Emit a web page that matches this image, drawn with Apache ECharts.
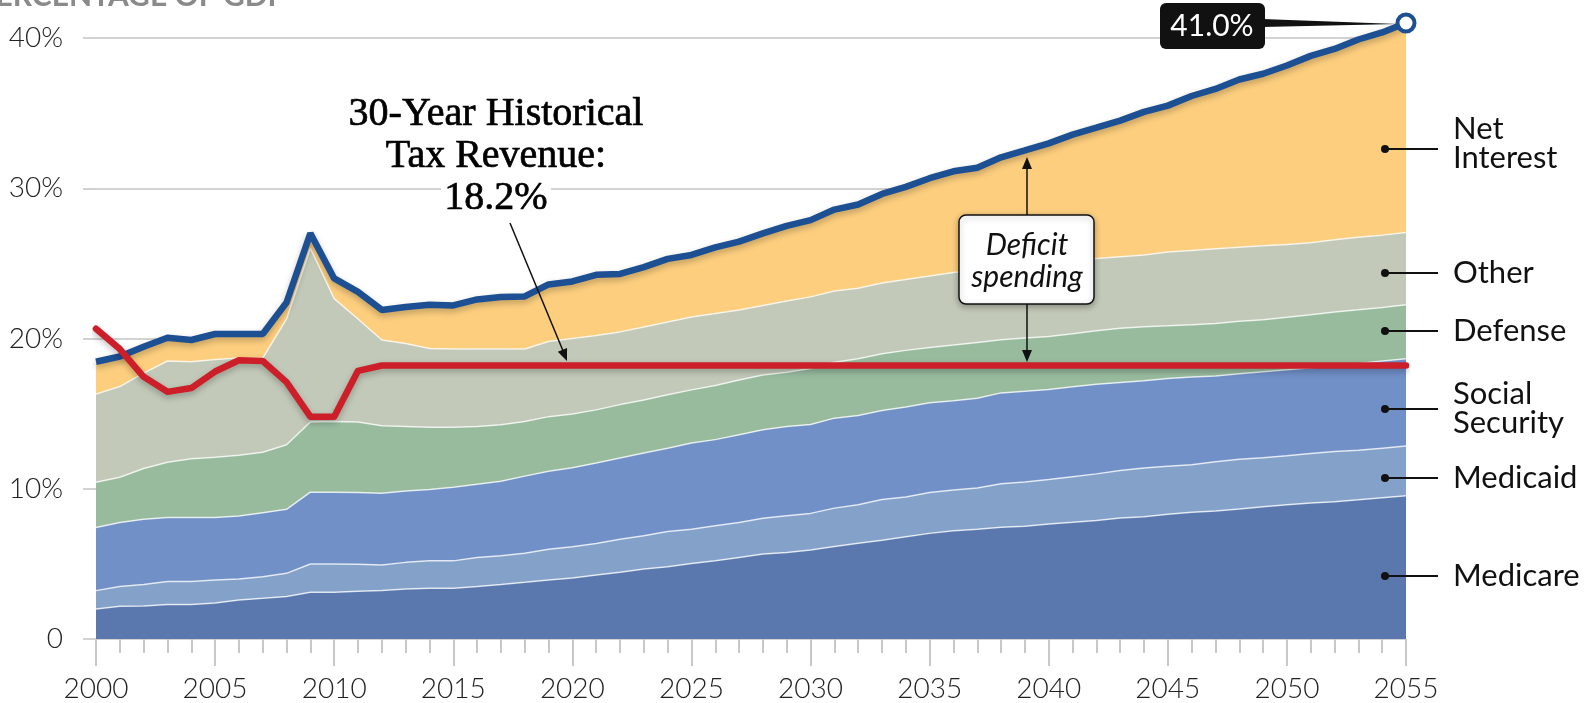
<!DOCTYPE html>
<html>
<head>
<meta charset="utf-8">
<script src="https://cdn.jsdelivr.net/npm/echarts@6/dist/echarts.min.js"></script>
<style>
  html, body { margin: 0; padding: 0; background: #fff; }
  #main { width: 1594px; height: 703px; }
</style>
</head>
<body>
<div id="main"></div>
<script>
// years on the x axis
var years = ['2000','2001','2002','2003','2004','2005','2006','2007','2008','2009',
  '2010','2011','2012','2013','2014','2015','2016','2017','2018','2019',
  '2020','2021','2022','2023','2024','2025','2026','2027','2028','2029',
  '2030','2031','2032','2033','2034','2035','2036','2037','2038','2039',
  '2040','2041','2042','2043','2044','2045','2046','2047','2048','2049',
  '2050','2051','2052','2053','2054','2055']

// spending by category, % of GDP (stacked bottom to top)
var medicare = [2.00,2.18,2.20,2.30,2.30,2.40,2.60,2.71,2.83,3.11,
  3.11,3.18,3.22,3.33,3.38,3.38,3.49,3.62,3.77,3.93,
  4.06,4.26,4.44,4.66,4.81,5.03,5.21,5.43,5.65,5.75,
  5.92,6.15,6.38,6.57,6.80,7.03,7.20,7.31,7.43,7.50,
  7.66,7.77,7.89,8.05,8.13,8.30,8.44,8.52,8.66,8.80,
  8.93,9.05,9.13,9.26,9.40,9.54]
var medicaid = [1.22,1.31,1.42,1.52,1.52,1.53,1.40,1.44,1.54,1.88,
  1.88,1.79,1.70,1.77,1.82,1.82,1.94,1.92,1.93,2.05,
  2.08,2.10,2.20,2.21,2.34,2.27,2.32,2.32,2.38,2.45,
  2.44,2.56,2.56,2.72,2.65,2.72,2.71,2.74,2.90,2.95,
  2.95,3.03,3.10,3.17,3.25,3.20,3.16,3.27,3.30,3.27,
  3.27,3.29,3.35,3.30,3.30,3.30]
var socialSecurity = [4.20,4.26,4.35,4.26,4.26,4.15,4.19,4.26,4.26,4.78,
  4.78,4.78,4.78,4.75,4.75,4.90,4.87,4.96,5.14,5.19,
  5.26,5.36,5.41,5.51,5.55,5.75,5.74,5.85,5.90,5.95,
  5.92,5.99,5.93,5.92,5.99,5.97,5.95,5.98,6.05,6.04,
  6.00,5.99,5.96,5.85,5.81,5.83,5.83,5.72,5.69,5.72,
  5.72,5.72,5.72,5.78,5.80,5.82]
var defense = [3.01,3.02,3.38,3.69,3.92,4.02,4.04,4.02,4.30,4.67,
  4.71,4.70,4.50,4.30,4.15,4.00,3.85,3.76,3.64,3.63,
  3.57,3.53,3.55,3.52,3.55,3.53,3.60,3.64,3.64,3.60,
  3.72,3.72,3.78,3.77,3.77,3.68,3.70,3.71,3.53,3.54,
  3.53,3.53,3.56,3.61,3.60,3.52,3.49,3.49,3.49,3.46,
  3.49,3.52,3.57,3.57,3.57,3.58]
var other = [5.87,6.03,6.35,6.73,6.45,6.50,6.47,6.27,8.37,11.56,
  8.17,6.85,5.70,5.52,5.24,5.20,5.15,5.04,4.82,5.00,
  5.03,4.95,4.84,4.87,4.85,4.85,4.79,4.66,4.63,4.75,
  4.77,4.74,4.69,4.72,4.72,4.76,4.83,4.81,4.79,4.82,
  4.86,4.83,4.81,4.76,4.76,4.90,4.94,4.97,4.94,4.92,
  4.84,4.80,4.81,4.83,4.81,4.81]
var netInterest = [2.15,2.00,1.75,1.55,1.45,1.70,1.60,1.60,1.10,1.00,
  1.35,1.80,2.00,2.43,2.91,2.90,3.30,3.46,3.50,3.80,
  3.80,4.04,3.86,3.98,4.20,4.13,4.41,4.55,4.80,5.00,
  5.11,5.42,5.58,5.92,6.16,6.51,6.74,6.81,7.36,7.67,
  7.99,8.42,8.71,9.06,9.53,9.75,10.28,10.64,11.16,11.45,
  11.92,12.43,12.69,13.16,13.49,13.95]

// total spending (blue line) and tax revenue (red line)
var totalSpending = [18.45,18.80,19.45,20.05,19.90,20.30,20.30,20.30,22.40,27.00,
  24.00,23.10,21.90,22.10,22.25,22.20,22.60,22.76,22.80,23.60,
  23.80,24.24,24.30,24.75,25.30,25.56,26.07,26.45,27.00,27.50,
  27.88,28.58,28.92,29.62,30.09,30.67,31.13,31.36,32.06,32.52,
  32.99,33.57,34.03,34.50,35.08,35.50,36.14,36.61,37.24,37.62,
  38.17,38.81,39.27,39.90,40.37,41.00]
var taxRevenue = [20.65,19.30,17.45,16.45,16.70,17.80,18.55,18.50,17.10,14.80,
  14.80,17.85,18.20,18.20,18.20,18.20,18.20,18.20,18.20,18.20,
  18.20,18.20,18.20,18.20,18.20,18.20,18.20,18.20,18.20,18.20,
  18.20,18.20,18.20,18.20,18.20,18.20,18.20,18.20,18.20,18.20,
  18.20,18.20,18.20,18.20,18.20,18.20,18.20,18.20,18.20,18.20,
  18.20,18.20,18.20,18.20,18.20,18.20]

var yTicks = [0, 10, 20, 30, 40]

var myChart = echarts.init(document.getElementById('main'))

var labelFont = 'Lato, "DejaVu Sans", sans-serif'
var serifFont = '"Liberation Serif", serif'

function areaSeries(name, data, color) {
  return {
    name: name,
    type: 'line',
    stack: 'spend',
    data: data,
    symbol: 'none',
    clip: false,
    lineStyle: { color: 'rgba(255,255,255,0.75)', width: 1.5 },
    areaStyle: { color: color, opacity: 1 },
    z: 2
  }
}

// arrow head at (x2, y2) for a line coming from (x1, y1)
function arrowHead(x1, y1, x2, y2) {
  var a = Math.atan2(y2 - y1, x2 - x1)
  var s = 12, w = 5
  return {
    type: 'polygon',
    shape: { points: [
      [x2, y2],
      [x2 - s * Math.cos(a) + w * Math.sin(a), y2 - s * Math.sin(a) - w * Math.cos(a)],
      [x2 - s * Math.cos(a) - w * Math.sin(a), y2 - s * Math.sin(a) + w * Math.cos(a)]
    ] },
    style: { fill: '#111' },
    z: 100
  }
}

function sideLabel(lines, dotY, textY) {
  var els = [
    { type: 'circle', shape: { cx: 1385, cy: dotY, r: 4 }, style: { fill: '#111' }, z: 100 },
    { type: 'line', shape: { x1: 1385, y1: dotY, x2: 1438, y2: dotY }, style: { stroke: '#111', lineWidth: 2 }, z: 100 }
  ]
  lines.forEach(function (t, i) {
    els.push({
      type: 'text', x: 1453, y: textY + i * 29, z: 100,
      style: { text: t, font: '31px ' + labelFont, fill: '#111', textAlign: 'left', textVerticalAlign: 'middle' }
    })
  })
  return els
}

function serifLine(t, y) {
  return {
    type: 'text', x: 496, y: y, z: 100,
    style: { text: t, font: '40px ' + serifFont, fill: '#000', stroke: '#000', lineWidth: 0.7, textAlign: 'center', textVerticalAlign: 'middle' }
  }
}

var lastIdx = totalSpending.length - 1

var graphics = [
  // cut-off title
  { type: 'text', x: -23, y: -4, style: { text: 'PERCENTAGE OF GDP', font: 'bold 30px ' + labelFont, fill: '#8a8a8a', textVerticalAlign: 'middle' } },

  // tax revenue annotation
  serifLine('30-Year Historical', 114),
  serifLine('Tax Revenue:', 156),
  { type: 'rect', shape: { x: 441, y: 180, width: 110, height: 36 }, style: { fill: '#fff' }, z: 99 },
  serifLine('18.2%', 198),
  { type: 'line', shape: { x1: 510, y1: 223, x2: 566, y2: 358 }, style: { stroke: '#111', lineWidth: 1.5 }, z: 100 },
  arrowHead(510, 223, 567, 361),

  // deficit spending box
  { type: 'line', shape: { x1: 1027, y1: 215, x2: 1027, y2: 165 }, style: { stroke: '#111', lineWidth: 1.5 }, z: 100 },
  arrowHead(1027, 215, 1027, 157),
  { type: 'line', shape: { x1: 1027, y1: 304, x2: 1027, y2: 352 }, style: { stroke: '#111', lineWidth: 1.5 }, z: 100 },
  arrowHead(1027, 304, 1027, 362),
  { type: 'rect', shape: { x: 959, y: 215, width: 135, height: 89, r: 7 },
    style: { fill: '#fff', stroke: '#111', lineWidth: 1.5, shadowBlur: 6, shadowColor: 'rgba(0,0,0,0.3)', shadowOffsetY: 2 }, z: 100 },
  { type: 'text', x: 1027, y: 245, z: 101, style: { text: 'Deficit', font: 'italic 30px ' + labelFont, fill: '#111', textAlign: 'center', textVerticalAlign: 'middle' } },
  { type: 'text', x: 1027, y: 277, z: 101, style: { text: 'spending', font: 'italic 30px ' + labelFont, fill: '#111', textAlign: 'center', textVerticalAlign: 'middle' } },

  // 41.0% callout
  { type: 'polygon', shape: { points: [[1262, 19], [1262, 27], [1398, 24]] }, style: { fill: '#111' }, z: 100 },
  { type: 'rect', shape: { x: 1160, y: 3, width: 105, height: 46, r: 6 }, style: { fill: '#111' }, z: 101 },
  { type: 'text', x: 1212, y: 26, z: 102, style: { text: '41.0%', font: '30px ' + labelFont, fill: '#fff', textAlign: 'center', textVerticalAlign: 'middle' } }
]
graphics = graphics
  .concat(sideLabel(['Net', 'Interest'], 149, 129))
  .concat(sideLabel(['Other'], 273, 273))
  .concat(sideLabel(['Defense'], 331, 331))
  .concat(sideLabel(['Social', 'Security'], 409, 394))
  .concat(sideLabel(['Medicaid'], 478, 478))
  .concat(sideLabel(['Medicare'], 576, 576))

var hiddenLine = { show: true, lineStyle: { color: 'rgba(0,0,0,0)' } }

var option = {
  animation: false,
  backgroundColor: '#fff',
  grid: { left: 96, right: 188, top: 38, bottom: 61 },
  xAxis: [
    {
      type: 'category',
      data: years,
      boundaryGap: false,
      axisLine: hiddenLine,
      axisTick: { show: true, interval: 0, length: 14, lineStyle: { color: '#c8c8c8', width: 2 } },
      axisLabel: { interval: 4, margin: 36, color: '#222', fontSize: 28, fontWeight: 300, fontFamily: labelFont },
      splitLine: { show: false }
    },
    {
      type: 'category',
      data: years,
      boundaryGap: false,
      position: 'bottom',
      axisLine: hiddenLine,
      axisTick: { show: true, interval: 4, length: 27, lineStyle: { color: '#c8c8c8', width: 2 } },
      axisLabel: { show: false },
      splitLine: { show: false }
    }
  ],
  yAxis: {
    type: 'value',
    min: yTicks[0],
    max: yTicks[yTicks.length - 1],
    interval: 10,
    axisLine: { show: false },
    axisTick: { show: true, length: 13, lineStyle: { color: '#c4c4c4', width: 1.5 } },
    axisLabel: {
      margin: 33, color: '#222', fontSize: 28, fontWeight: 300, fontFamily: labelFont,
      formatter: function (v) { return v === 0 ? '0' : v + '%' }
    },
    splitLine: { lineStyle: { color: '#c4c4c4', width: 1.5 } }
  },
  series: [
    areaSeries('Medicare', medicare, '#5a78ad'),
    areaSeries('Medicaid', medicaid, '#84a1ca'),
    areaSeries('Social Security', socialSecurity, '#7190c8'),
    areaSeries('Defense', defense, '#98bb9e'),
    areaSeries('Other', other, '#c2c9b8'),
    areaSeries('Net Interest', netInterest, '#fcce7e'),
    {
      name: 'Total spending',
      type: 'line',
      data: totalSpending.map(function (v, i) {
        return i === lastIdx ? { value: v, symbol: 'circle', symbolSize: 17 } : v
      }),
      symbol: 'none',
      showAllSymbol: true,
      clip: false,
      lineStyle: { color: '#1d4f93', width: 6.5, shadowColor: 'rgba(0,0,0,0.25)', shadowBlur: 6, shadowOffsetY: 3 },
      itemStyle: { color: '#fff', borderColor: '#1d4f93', borderWidth: 4 },
      z: 5
    },
    {
      name: 'Tax revenue',
      type: 'line',
      data: taxRevenue,
      symbol: 'none',
      clip: false,
      lineStyle: { color: '#cc1f29', width: 6.5, cap: 'round', join: 'round', shadowColor: 'rgba(0,0,0,0.25)', shadowBlur: 6, shadowOffsetY: 3 },
      z: 6
    }
  ],
  graphic: { elements: graphics }
}

myChart.setOption(option)
</script>
</body>
</html>
